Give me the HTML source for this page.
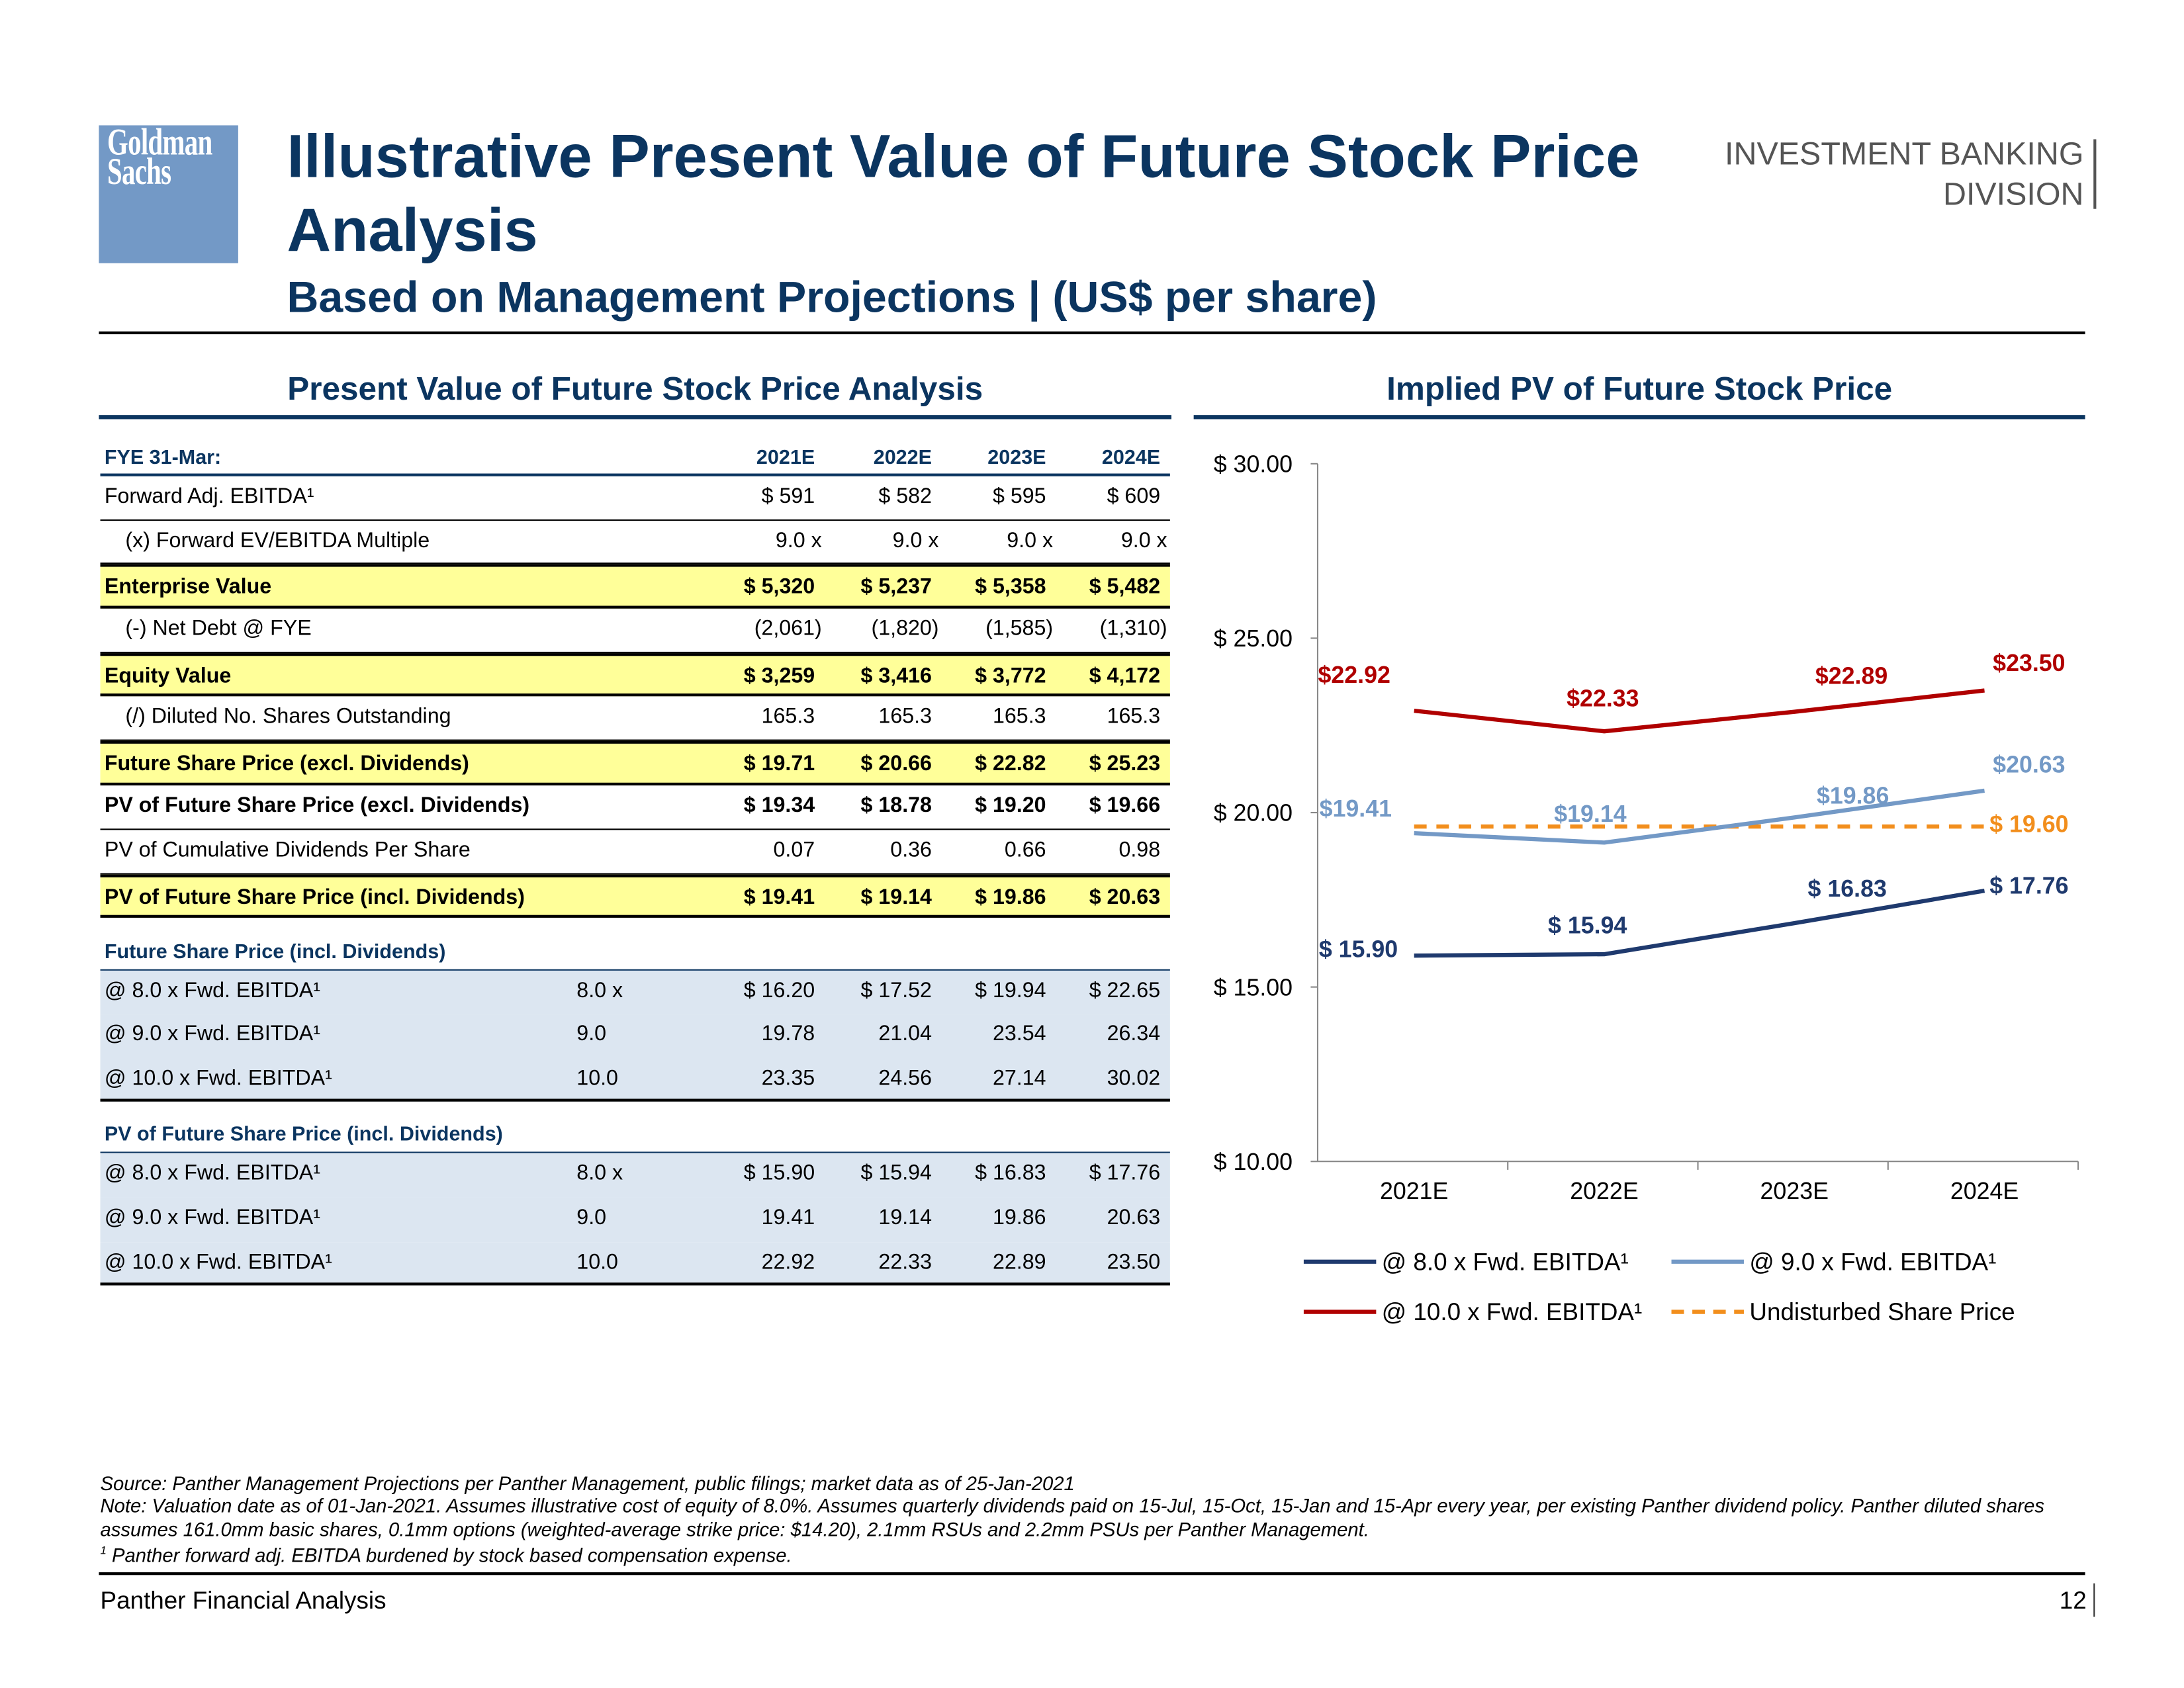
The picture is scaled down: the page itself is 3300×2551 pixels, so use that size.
<!DOCTYPE html>
<html><head><meta charset="utf-8">
<style>
html,body{margin:0;padding:0;background:#fff;}
body{width:3300px;height:2550px;overflow:hidden;font-family:"Liberation Sans",Arial,sans-serif;}
#page{position:absolute;left:0;top:0;width:1568px;height:1212px;transform:scale(2.1046);transform-origin:0 0;}
.a{position:absolute;white-space:nowrap;}
.navy{color:#0b3560;}
.row{position:absolute;left:72px;width:768px;font-size:15.3px;color:#000;}
.cell{position:absolute;top:0;white-space:nowrap;}
.v{text-align:right;width:90px;}
.fn{font-size:13.9px;font-style:italic;color:#000;}
</style></head><body>
<div id="page">
  <div class="a" style="left:71px;top:90px;width:100px;height:99px;background:#7399c6;">
    <div style="position:absolute;left:6px;top:2px;color:#fff;font-family:'Liberation Serif',serif;font-weight:bold;font-size:27px;line-height:21px;letter-spacing:-0.5px;transform:scaleX(0.72);transform-origin:0 0;">Goldman<br>Sachs</div>
  </div>
  <div class="a navy" style="left:206px;top:86px;font-size:43.8px;font-weight:bold;line-height:53px;">Illustrative Present Value of Future Stock Price<br>Analysis</div>
  <div class="a navy" style="left:206px;top:195px;font-size:31.5px;font-weight:bold;">Based on Management Projections | (US$ per share)</div>
  <div class="a" style="left:1200px;top:96px;width:296px;text-align:right;font-size:23px;line-height:29px;color:#555;">INVESTMENT BANKING<br>DIVISION</div>
  <div class="a" style="left:1503px;top:100px;width:2px;height:50px;background:#555;"></div>
  <div class="a" style="left:71px;top:238px;width:1426px;height:2px;background:#000;"></div>

  <div class="a navy" style="left:72px;top:266px;width:768px;text-align:center;font-size:23.5px;font-weight:bold;">Present Value of Future Stock Price Analysis</div>
  <div class="a" style="left:71px;top:298px;width:770px;height:3px;background:#0b3560;"></div>
  <div class="a navy" style="left:857px;top:266px;width:640px;text-align:center;font-size:23.5px;font-weight:bold;">Implied PV of Future Stock Price</div>
  <div class="a" style="left:857px;top:298px;width:640px;height:3px;background:#0b3560;"></div>

  <div id="table"></div>

  <svg id="chart" class="a" style="left:0;top:0;" width="1568" height="1000"></svg>

  <div class="a fn" style="left:72px;top:1057px;line-height:16.3px;">Source: Panther Management Projections per Panther Management, public filings; market data as of 25-Jan-2021<br>Note: Valuation date as of 01-Jan-2021. Assumes illustrative cost of equity of 8.0%. Assumes quarterly dividends paid on 15-Jul, 15-Oct, 15-Jan and 15-Apr every year, per existing Panther dividend policy. Panther diluted shares<br>assumes 161.0mm basic shares, 0.1mm options (weighted-average strike price: $14.20), 2.1mm RSUs and 2.2mm PSUs per Panther Management.<br><sup style="font-size:8px">1</sup> Panther forward adj. EBITDA burdened by stock based compensation expense.</div>
  <div class="a" style="left:71px;top:1129px;width:1426px;height:2px;background:#000;"></div>
  <div class="a" style="left:72px;top:1139px;font-size:17.5px;">Panther Financial Analysis</div>
  <div class="a" style="left:1460px;top:1139px;width:38px;text-align:right;font-size:17.5px;">12</div>
  <div class="a" style="left:1503px;top:1137px;width:1px;height:24px;background:#333;"></div>
</div>
<script>
// ---------- table ----------
const rows = [
 [318,24,'FYE 31-Mar:','', '2021E','2022E','2023E','2024E','h'],
 [342,32,'Forward Adj. EBITDA¹','', '$ 591','$ 582','$ 595','$ 609',''],
 [374,31,'(x) Forward EV/EBITDA Multiple','', '9.0 x','9.0 x','9.0 x','9.0 x','i'],
 [405,32,'Enterprise Value','', '$ 5,320','$ 5,237','$ 5,358','$ 5,482','y'],
 [437,32,'(-) Net Debt @ FYE','', '(2,061)','(1,820)','(1,585)','(1,310)','i'],
 [469,31,'Equity Value','', '$ 3,259','$ 3,416','$ 3,772','$ 4,172','y'],
 [500,32,'(/) Diluted No. Shares Outstanding','', '165.3','165.3','165.3','165.3','i'],
 [532,32,'Future Share Price (excl. Dividends)','', '$ 19.71','$ 20.66','$ 22.82','$ 25.23','y'],
 [564,32,'PV of Future Share Price (excl. Dividends)','', '$ 19.34','$ 18.78','$ 19.20','$ 19.66','b'],
 [596,32,'PV of Cumulative Dividends Per Share','', '0.07','0.36','0.66','0.98',''],
 [628,31,'PV of Future Share Price (incl. Dividends)','', '$ 19.41','$ 19.14','$ 19.86','$ 20.63','y'],
 [673,24,'Future Share Price (incl. Dividends)','', '','','','','s'],
 [697,31,'@ 8.0 x Fwd. EBITDA¹','8.0 x', '$ 16.20','$ 17.52','$ 19.94','$ 22.65','l'],
 [728,32,'@ 9.0 x Fwd. EBITDA¹','9.0', '19.78','21.04','23.54','26.34','l'],
 [760,31,'@ 10.0 x Fwd. EBITDA¹','10.0', '23.35','24.56','27.14','30.02','l'],
 [805,23,'PV of Future Share Price (incl. Dividends)','', '','','','','s'],
 [828,32,'@ 8.0 x Fwd. EBITDA¹','8.0 x', '$ 15.90','$ 15.94','$ 16.83','$ 17.76','l'],
 [860,32,'@ 9.0 x Fwd. EBITDA¹','9.0', '19.41','19.14','19.86','20.63','l'],
 [892,31,'@ 10.0 x Fwd. EBITDA¹','10.0', '22.92','22.33','22.89','23.50','l']
];
const colRight = [585,669,751,833];
const tbl = document.getElementById('table');
rows.forEach((r,idx)=>{
  const [top,h,label,mult,a,b,c,d,st] = r;
  const row = document.createElement('div');
  
  
  row.className='row';
  let bg='transparent', bt='none', bb='1px solid #000', fw='normal', col='#000';
  if(st==='h'){bb='2px solid #0b3560';fw='bold';col='#0b3560';}
  if(st==='y'){bg='#ffff99';fw='bold';bb='2px solid #000';}
  if(st==='b'){fw='bold';}
  if(st==='s'){fw='bold';col='#0b3560';bb='1px solid #0b3560';}
  if(st==='l'){bg='#dce6f1';bb=(idx===14||idx===18)?'2px solid #000':'none';}
  if(st==='y' && rows[idx-1][8]!=='y') bt='2px solid #000';
  let fs = (st==='h'||st==='s') ? '14.5px' : '15.3px';
  row.style.cssText=`top:${top}px;height:${h}px;background:${bg};border-bottom:${bb};border-top:${bt};font-weight:${fw};color:${col};line-height:${h}px;box-sizing:border-box;font-size:${fs};`;
  const lc=document.createElement('div');
  
  
  lc.className='cell';
  lc.style.left=(st==='i'?18:3)+'px';
  lc.style.lineHeight=(h-2)+'px';
  lc.textContent=label;
  row.appendChild(lc);
  if(mult){
    const mc=document.createElement('div');
    
    
    mc.className='cell';mc.style.left='342px';mc.style.lineHeight=(h-2)+'px';
    mc.textContent=mult;row.appendChild(mc);
  }
  [a,b,c,d].forEach((v,i)=>{
    if(!v) return;
    const vc=document.createElement('div');
    
    
    vc.className='cell v';
    let right=colRight[i]; if(v.endsWith(')')||v.endsWith(' x')) right+=5;
    vc.style.left=(right-72-90)+'px';vc.style.lineHeight=(h-2)+'px';
    vc.textContent=v;row.appendChild(vc);
  });
  tbl.appendChild(row);
});

// ---------- chart ----------
const categories = ['2021E','2022E','2023E','2024E'];
const s8 = [15.90,15.94,16.83,17.76];
const s9 = [19.41,19.14,19.86,20.63];
const s10 = [22.92,22.33,22.89,23.50];
const undisturbed = [19.60,19.60,19.60,19.60];
const yTicks = [10,15,20,25,30];
const yTickLabels = ['$ 10.00','$ 15.00','$ 20.00','$ 25.00','$ 30.00'];

const svg=document.getElementById('chart');
const NS='http://www.w3.org/2000/svg';
const X0=946, X1=1492, Y0=834, Y1=333, yMin=10, yMax=30;
const band=(X1-X0)/categories.length;
const xPos=i=>X0+band*(i+0.5)+1;
const xLab=i=>X0+band*(i+0.5)+1;
const yPos=v=>Y0-(v-yMin)/(yMax-yMin)*(Y0-Y1);
function el(tag,attrs){const e=document.createElementNS(NS,tag);for(const k in attrs)e.setAttribute(k,attrs[k]);svg.appendChild(e);return e;}
const ax=el('line',{x1:X0,y1:Y1,x2:X0,y2:Y0,stroke:'#888','stroke-width':1});


const xax=el('line',{x1:X0,y1:Y0,x2:X1,y2:Y0,stroke:'#888','stroke-width':1});


yTicks.forEach((t,i)=>{
  el('line',{x1:X0-5,y1:yPos(t),x2:X0,y2:yPos(t),stroke:'#888'});
  const tx=el('text',{x:928,y:yPos(t)+6,'text-anchor':'end','font-size':17,fill:'#000'});
  
  
  tx.textContent=yTickLabels[i];
});
categories.forEach((c,i)=>{
  el('line',{x1:X0+band*(i+1),y1:Y0,x2:X0+band*(i+1),y2:Y0+6,stroke:'#888'});
  const tx=el('text',{x:xLab(i),y:861,'text-anchor':'middle','font-size':17,fill:'#000'});
  
  
  tx.textContent=c;
});
function series(vals,color,name,dash){
  const pts=vals.map((v,i)=>xPos(i)+','+yPos(v)).join(' ');
  const attrs={points:pts,fill:'none',stroke:color,'stroke-width':3,'stroke-linejoin':'round'};
  if(dash) attrs['stroke-dasharray']=dash;
  const p=el('polyline',attrs);
  
  
}
series(undisturbed,'#f28e1c','undisturbed-price-line','9,7');
series(s10,'#b00000','series-10x-line');
series(s9,'#7399c6','series-9x-line');
series(s8,'#1f3a6e','series-8x-line');
const lab10dx=[-43,-1,41,32], lab10dy=[-26,-24,-26,-20];
const lab9dx=[-42,-10,42,32], lab9dy=[-18,-21,-16,-19];
const lab8dx=[-40,-12,38,32], lab8dy=[-5,-21,-25,-4];
function labels(vals,color,dxs,dys,prefix,name){
  vals.forEach((v,i)=>{
    const tx=el('text',{x:xPos(i)+dxs[i],y:yPos(v)+dys[i]+6,'text-anchor':'middle','font-size':17,'font-weight':'bold',fill:color});
    
    
    tx.textContent=prefix+v.toFixed(2);
  });
}
labels(s10,'#b00000',lab10dx,lab10dy,'$','label-10x');
labels(s9,'#7399c6',lab9dx,lab9dy,'$','label-9x');
labels(s8,'#1f3a6e',lab8dx,lab8dy,'$ ','label-8x');
const ul=el('text',{x:xPos(3)+32,y:yPos(undisturbed[3])+4,'text-anchor':'middle','font-size':17,'font-weight':'bold',fill:'#f28e1c'});


ul.textContent='$ '+undisturbed[3].toFixed(2);
const legend=[[936,906,'#1f3a6e','@ 8.0 x Fwd. EBITDA¹',''],[1200,906,'#7399c6','@ 9.0 x Fwd. EBITDA¹',''],[936,942,'#b00000','@ 10.0 x Fwd. EBITDA¹',''],[1200,942,'#f28e1c','Undisturbed Share Price','9,6']];
legend.forEach(l=>{
  const a={x1:l[0],y1:l[1],x2:l[0]+52,y2:l[1],stroke:l[2],'stroke-width':3};
  if(l[4]) a['stroke-dasharray']=l[4];
  const ln=el('line',a);
  
  
  const tx=el('text',{x:l[0]+56,y:l[1]+6,'font-size':17.5,fill:'#000'});
  
  
  tx.textContent=l[3];
});
</script>
</body></html>
